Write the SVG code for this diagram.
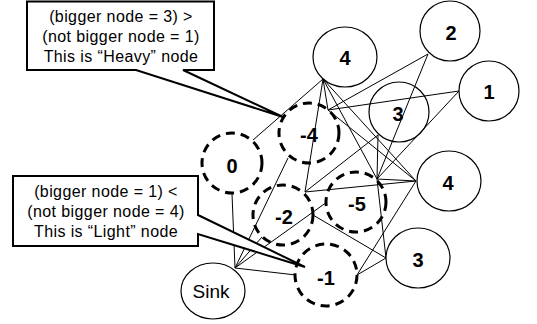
<svg xmlns="http://www.w3.org/2000/svg" width="537" height="324" viewBox="0 0 537 324">
<style>
.n{fill:#fff;stroke:#000;stroke-width:1.2}
.o{fill:none;stroke:#000;stroke-width:1.2}
.d{fill:none;stroke:#000;stroke-width:3;stroke-dasharray:9 6}
.e{stroke:#000;stroke-width:1;fill:none}
.lb{font-family:"Liberation Sans",Arial,sans-serif;font-weight:bold;font-size:20px;text-anchor:middle}
.sk{font-family:"Liberation Sans",Arial,sans-serif;font-size:19px;text-anchor:middle}
.co{fill:#fff;stroke:#000;stroke-width:2;stroke-linejoin:miter}
.ct{font-family:"Liberation Sans",Arial,sans-serif;font-size:16px;letter-spacing:0.4px;text-anchor:middle}
</style>
<rect width="537" height="324" fill="#fff"/>
<g id="connectors">
<line class="e" x1="235" y1="268" x2="232" y2="194"/>
<line class="e" x1="235" y1="268" x2="288" y2="158"/>
<line class="e" x1="235" y1="268" x2="262" y2="237"/>
<line class="e" x1="235" y1="268" x2="327" y2="202"/>
<line class="e" x1="235" y1="268" x2="296" y2="275"/>
<line class="e" x1="323" y1="79" x2="253" y2="140"/>
<line class="e" x1="323" y1="79" x2="305" y2="192"/>
<line class="e" x1="323" y1="79" x2="377" y2="179"/>
<line class="e" x1="323" y1="79" x2="416" y2="181"/>
<line class="e" x1="323" y1="79" x2="328" y2="110"/>
<line class="e" x1="328" y1="110" x2="428" y2="54"/>
<line class="e" x1="328" y1="110" x2="459" y2="91"/>
<line class="e" x1="328" y1="110" x2="416" y2="181"/>
<line class="e" x1="378" y1="135" x2="377" y2="179"/>
<line class="e" x1="378" y1="135" x2="305" y2="192"/>
<line class="e" x1="428" y1="54" x2="377" y2="179"/>
<line class="e" x1="459" y1="91" x2="377" y2="179"/>
<line class="e" x1="377" y1="179" x2="416" y2="181"/>
<line class="e" x1="305" y1="192" x2="416" y2="181"/>
<line class="e" x1="377" y1="179" x2="386" y2="258"/>
<line class="e" x1="313" y1="215" x2="386" y2="258"/>
<line class="e" x1="386" y1="258" x2="357" y2="275"/>
<line class="e" x1="416" y1="181" x2="357" y2="275"/>
</g>
<g id="node-top4"><ellipse class="o" cx="345" cy="57" rx="32" ry="30"/><text class="lb" x="345" y="65">4</text></g>
<g id="node-2"><ellipse class="n" cx="450" cy="31" rx="30" ry="30"/><text class="lb" x="451" y="40">2</text></g>
<g id="node-1"><ellipse class="n" cx="489" cy="91" rx="30" ry="30"/><text class="lb" x="489" y="99">1</text></g>
<g id="node-3a"><ellipse class="o" cx="399" cy="112" rx="30" ry="30"/><text class="lb" x="398" y="121">3</text></g>
<g id="node-4b"><ellipse class="n" cx="449" cy="181" rx="32" ry="30"/><text class="lb" x="448" y="190">4</text></g>
<g id="node-3b"><ellipse class="n" cx="418" cy="258" rx="32" ry="30"/><text class="lb" x="418" y="267">3</text></g>
<g id="node-sink"><ellipse class="n" cx="213" cy="291" rx="32" ry="28"/><text class="sk" x="211" y="298">Sink</text></g>
<g id="node-0"><circle class="d" cx="232" cy="163" r="30"/><text class="lb" x="232" y="173">0</text></g>
<g id="node-m4"><circle class="d" cx="309" cy="133" r="30"/><text class="lb" x="309" y="142">-4</text></g>
<g id="node-m2"><circle class="d" cx="283" cy="215" r="30"/><text class="lb" x="284" y="224">-2</text></g>
<g id="node-m5"><circle class="d" cx="356" cy="202" r="30"/><text class="lb" x="357" y="211">-5</text></g>
<g id="node-m1"><circle class="d" cx="326" cy="275" r="31"/><text class="lb" x="326" y="285">-1</text></g>
<g id="callout-heavy">
<path class="co" d="M27,1.5 H214 V70 H183 L283,117 L136,70 H27 Z"/>
<text class="ct" x="121" y="22">(bigger node = 3) &gt;</text>
<text class="ct" x="121" y="42">(not bigger node = 1)</text>
<text class="ct" x="121" y="62">This is “Heavy” node</text>
</g>
<g id="callout-light">
<path class="co" d="M13,176 H198 V215 L305,267 L198,234 V246 H13 Z"/>
<text class="ct" x="106" y="197">(bigger node = 1) &lt;</text>
<text class="ct" x="106" y="217">(not bigger node = 4)</text>
<text class="ct" x="106" y="237">This is “Light” node</text>
</g>
</svg>
